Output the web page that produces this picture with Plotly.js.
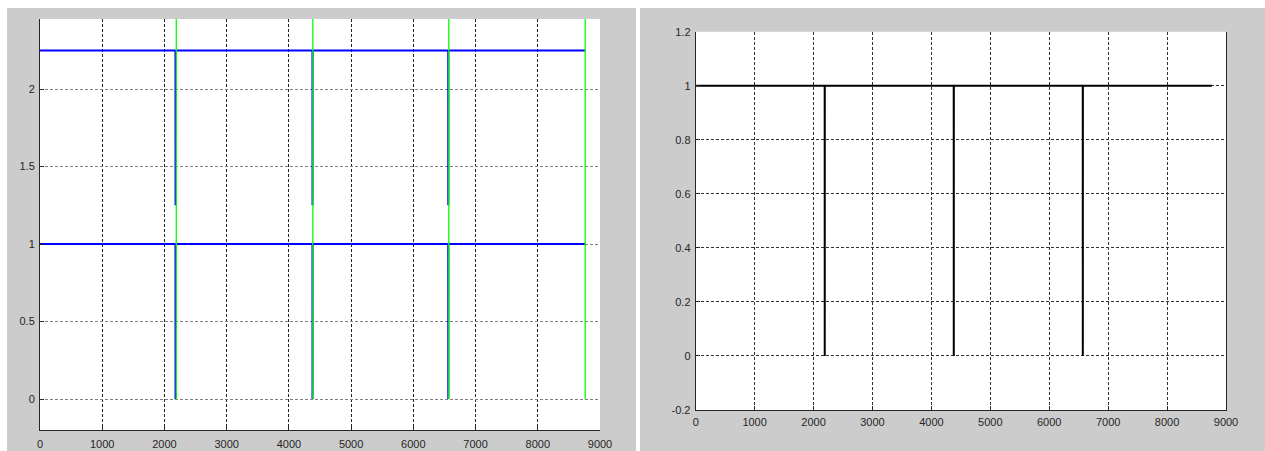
<!DOCTYPE html>
<html>
<head>
<meta charset="utf-8">
<script src="https://cdn.plot.ly/plotly-3.0.1.min.js"></script>
<style>html,body{margin:0;padding:0;background:#fff;}#chart{width:1265px;height:451px;}</style>
</head>
<body>
<div id="chart"></div>
<script>
// ---- data ----
// left panel: two on/off signals (blue) and event markers (green)
const blueHours   = [0, 2177, 2178, 2179, 4379, 4380, 4381, 6561, 6562, 6563, 8760];
const lowerSignal = [1, 1, 0, 1, 1, 0, 1, 1, 0, 1, 1];
const upperSignal = [2.25, 2.25, 1.25, 2.25, 2.25, 1.25, 2.25, 2.25, 1.25, 2.25, 2.25];
const markerHours = [2190, 4385, 6570, 8762];
const markerBottom = 0;
const markerTop = 3;
// right panel: availability signal (black)
const statusHours = [0, 2189, 2190, 2191, 4379, 4380, 4381, 6569, 6570, 6571, 8760];
const statusValues = [1, 1, 0, 1, 1, 0, 1, 1, 0, 1, 1];
// tick labels
const xTicks = [0, 1000, 2000, 3000, 4000, 5000, 6000, 7000, 8000, 9000];
const leftYTicks = [0, 0.5, 1, 1.5, 2];
const leftYLabels = ['0', '0.5', '1', '1.5', '2'];
const rightYTicks = [-0.2, 0, 0.2, 0.4, 0.6, 0.8, 1, 1.2];
const rightYLabels = ['-0.2', '0', '0.2', '0.4', '0.6', '0.8', '1', '1.2'];

// ---- build traces ----
const gx = [], gy = [];
markerHours.forEach(h => { gx.push(h, h, null); gy.push(markerBottom, markerTop, null); });

const traces = [
  {x: blueHours, y: upperSignal, type: 'scatter', mode: 'lines', line: {color: '#0000ff', width: 2}, xaxis: 'x', yaxis: 'y', hoverinfo: 'skip'},
  {x: blueHours, y: lowerSignal, type: 'scatter', mode: 'lines', line: {color: '#0000ff', width: 2}, xaxis: 'x', yaxis: 'y', hoverinfo: 'skip'},
  {x: gx, y: gy, type: 'scatter', mode: 'lines', line: {color: '#00ff00', width: 1.3}, xaxis: 'x', yaxis: 'y', hoverinfo: 'skip', connectgaps: false},
  {x: statusHours, y: statusValues, type: 'scatter', mode: 'lines', line: {color: '#000000', width: 2}, xaxis: 'x2', yaxis: 'y2', hoverinfo: 'skip'}
];

const W = 1265, H = 451;
const L = {x0: 40, x1: 600, y0: 19, y1: 430};
const R = {x0: 695.7, x1: 1226, y0: 31.7, y1: 410};
const fx = v => v / W, fy = v => 1 - v / H;

const tickFont = {family: 'Liberation Sans, Arial, sans-serif', size: 11, color: '#262626'};
const baseAxis = {
  showgrid: true, griddash: '3px,2px', gridwidth: 1, zeroline: false,
  showline: true, linecolor: '#262626', linewidth: 1,
  ticks: 'inside', ticklen: 4, tickcolor: '#262626', tickfont: tickFont,
  fixedrange: true
};

const layout = {
  width: W, height: H,
  margin: {l: 0, r: 0, t: 0, b: 0},
  paper_bgcolor: '#ffffff', plot_bgcolor: '#ffffff',
  showlegend: false,
  xaxis: Object.assign({}, baseAxis, {domain: [fx(L.x0), fx(L.x1)], range: [0, 9000], tickvals: xTicks, gridcolor: '#222', anchor: 'y', ticklabelstandoff: 4}),
  yaxis: Object.assign({}, baseAxis, {domain: [fy(L.y1), fy(L.y0)], range: [-0.2, 2.453], tickvals: leftYTicks, ticktext: leftYLabels, gridcolor: '#808080', anchor: 'x', ticklabelstandoff: 2}),
  xaxis2: Object.assign({}, baseAxis, {domain: [fx(R.x0), fx(R.x1)], range: [0, 9000], tickvals: xTicks, gridcolor: '#333', anchor: 'y2', ticklabelstandoff: 2}),
  yaxis2: Object.assign({}, baseAxis, {domain: [fy(R.y1), fy(R.y0)], range: [-0.2, 1.2], tickvals: rightYTicks, ticktext: rightYLabels, gridcolor: '#333', anchor: 'x2', mirror: true, ticklabelstandoff: 2}),
  shapes: [
    {type: 'rect', xref: 'paper', yref: 'paper', x0: fx(7), x1: fx(636), y0: 0, y1: fy(8), fillcolor: '#cccccc', line: {width: 0}, layer: 'below'},
    {type: 'rect', xref: 'paper', yref: 'paper', x0: fx(640), x1: 1, y0: 0, y1: fy(8), fillcolor: '#cccccc', line: {width: 0}, layer: 'below'},
    {type: 'rect', xref: 'paper', yref: 'paper', x0: fx(L.x0), x1: fx(L.x1), y0: fy(L.y1), y1: fy(L.y0), fillcolor: '#ffffff', line: {width: 0}, layer: 'below'},
    {type: 'rect', xref: 'paper', yref: 'paper', x0: fx(R.x0), x1: fx(R.x1), y0: fy(R.y1), y1: fy(R.y0), fillcolor: '#ffffff', line: {width: 0}, layer: 'below'}
  ]
};

Plotly.newPlot('chart', traces, layout, {staticPlot: true, displayModeBar: false});
</script>
</body>
</html>
